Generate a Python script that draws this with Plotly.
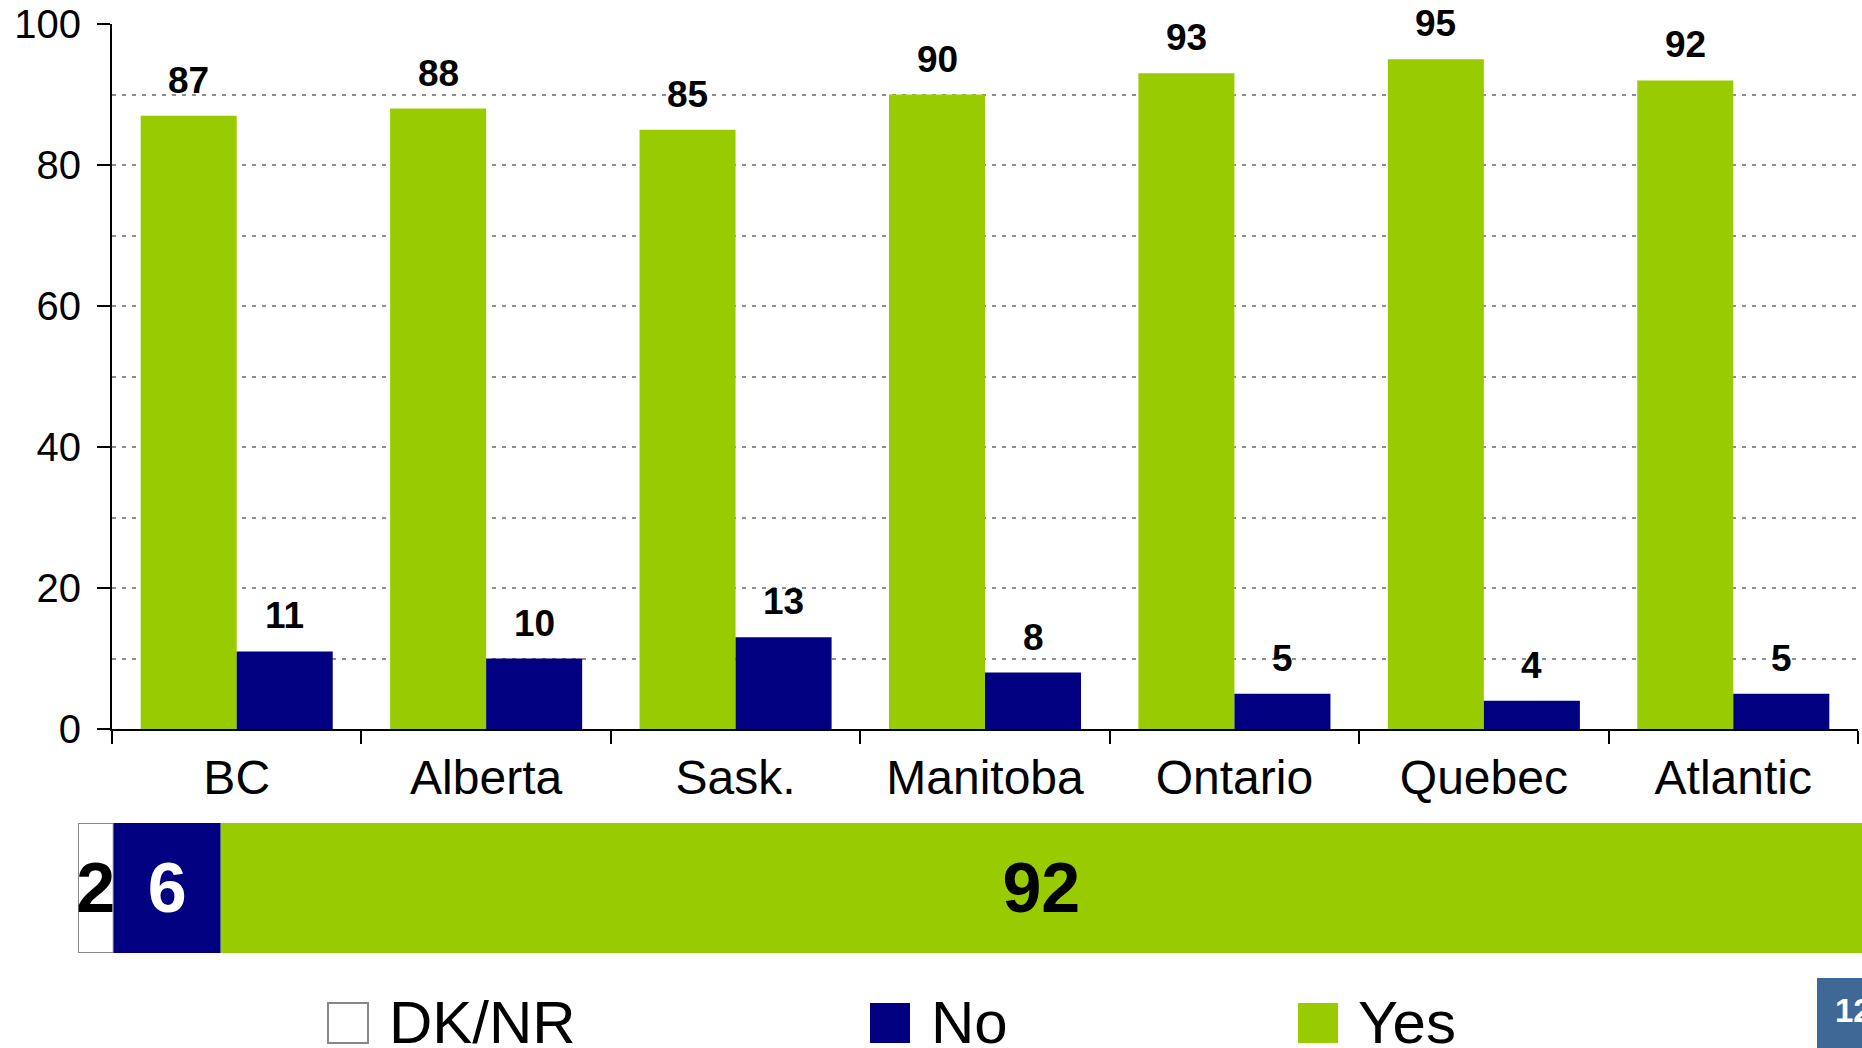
import plotly.graph_objects as go

# Survey results by region (percent)
regions = ["BC", "Alberta", "Sask.", "Manitoba", "Ontario", "Quebec", "Atlantic"]
yes_pct = [87, 88, 85, 90, 93, 95, 92]
no_pct = [11, 10, 13, 8, 5, 4, 5]

# National total (percent)
total_names = ["DK/NR", "No", "Yes"]
total_pct = [2, 6, 92]

y_ticks = [0, 20, 40, 60, 80, 100]
page_number = "12"

GREEN = "#99CC00"
NAVY = "#000080"
WHITE = "#FFFFFF"
GRID = "#8F8F8F"
FONT = "Liberation Sans, Arial, sans-serif"

W, H = 1862, 1048


def px(x):
    return x / W


def py(y):
    return 1 - y / H


fig = go.Figure()

# Regional grouped bars
fig.add_trace(go.Bar(
    x=regions, y=yes_pct, name="Yes", marker=dict(color=GREEN, line=dict(width=0)),
    xaxis="x", yaxis="y", offsetgroup="yes",
))
fig.add_trace(go.Bar(
    x=regions, y=no_pct, name="No", marker=dict(color=NAVY, line=dict(width=0)),
    xaxis="x", yaxis="y", offsetgroup="no",
))

# Value labels above the regional bars
half_bar = 48
for cat, yv, nv in zip(regions, yes_pct, no_pct):
    for val, shift in ((yv, -half_bar), (nv, half_bar)):
        fig.add_annotation(
            x=cat, y=val, xref="x", yref="y", xshift=shift, yshift=13,
            text=f"<b>{val}</b>", showarrow=False, yanchor="bottom",
            font=dict(family=FONT, size=37, color="black"),
        )

# National total as one stacked horizontal bar
total_colors = [WHITE, NAVY, GREEN]
total_text_colors = ["black", "white", "black"]
total_lines = [dict(color="#888888", width=2), dict(width=0), dict(width=0)]
base = 0
for name, val, col, tcol, ln in zip(total_names, total_pct, total_colors,
                                    total_text_colors, total_lines):
    fig.add_trace(go.Bar(
        y=["Total"], x=[val], base=[base], orientation="h", name=name,
        marker=dict(color=col, line=ln), width=[1],
        xaxis="x2", yaxis="y2", offsetgroup="total",
        text=[f"<b>{val}</b>"], textposition="inside", insidetextanchor="middle",
        textangle=0, constraintext="none", cliponaxis=False,
        textfont=dict(family=FONT, size=70, color=tcol),
        showlegend=False,
    ))
    base += val

fig.update_layout(
    width=W, height=H,
    margin=dict(l=0, r=0, t=0, b=0, autoexpand=False),
    paper_bgcolor="white", plot_bgcolor="white",
    barmode="group", bargap=0.23, bargroupgap=0,
    showlegend=False,
    font=dict(family=FONT, color="black"),
    xaxis=dict(
        domain=[px(112), px(1858)], anchor="y", automargin=False,
        showline=True, linecolor="black", linewidth=2,
        ticks="outside", tickson="boundaries", ticklen=13, tickwidth=2, tickcolor="black",
        tickfont=dict(family=FONT, size=48, color="black"),
        ticklabelstandoff=5,
        showgrid=False, zeroline=False, fixedrange=True,
    ),
    yaxis=dict(
        domain=[py(729), py(24)], anchor="x", automargin=False,
        range=[0, 100], tickvals=y_ticks,
        showline=True, linecolor="black", linewidth=2,
        ticks="outside", ticklen=13, tickwidth=2, tickcolor="black",
        tickfont=dict(family=FONT, size=40, color="black"),
        ticklabelstandoff=8,
        showgrid=True, gridcolor=GRID, gridwidth=2, griddash="4px,6px",
        minor=dict(dtick=10, showgrid=True, gridcolor=GRID, gridwidth=2,
                   griddash="4px,6px", ticks=""),
        zeroline=False, fixedrange=True,
    ),
    xaxis2=dict(
        domain=[px(78), 1], anchor="y2", range=[0, 100], automargin=False,
        visible=False, fixedrange=True,
    ),
    yaxis2=dict(
        domain=[py(953), py(823)], anchor="x2", range=[-0.5, 0.5], automargin=False,
        visible=False, fixedrange=True,
    ),
)

# Legend drawn as large swatches with labels
legend_items = [
    ("DK/NR", WHITE, 328, 387),
    ("No", NAVY, 870, 929),
    ("Yes", GREEN, 1298, 1356),
]
for name, col, x0, tx in legend_items:
    fig.add_shape(
        type="rect", xref="paper", yref="paper",
        x0=px(x0), x1=px(x0 + 40), y0=py(1043), y1=py(1003),
        fillcolor=col,
        line=dict(color="#888888" if col == WHITE else col, width=2 if col == WHITE else 0),
    )
    fig.add_annotation(
        x=px(tx), y=py(1022), xref="paper", yref="paper",
        text=name, showarrow=False, xanchor="left", yanchor="middle",
        font=dict(family=FONT, size=60, color="black"),
    )

# Page number tab
fig.add_shape(
    type="rect", xref="paper", yref="paper",
    x0=px(1817), x1=1.0, y0=0, y1=py(978),
    fillcolor="#3F6897", line=dict(width=0),
)
fig.add_annotation(
    x=px(1833), y=py(1010), xref="paper", yref="paper",
    text=f"<b>{page_number}</b>", showarrow=False, xanchor="left", yanchor="middle",
    font=dict(family=FONT, size=33, color="white"),
)

fig.write_html("out.html")
